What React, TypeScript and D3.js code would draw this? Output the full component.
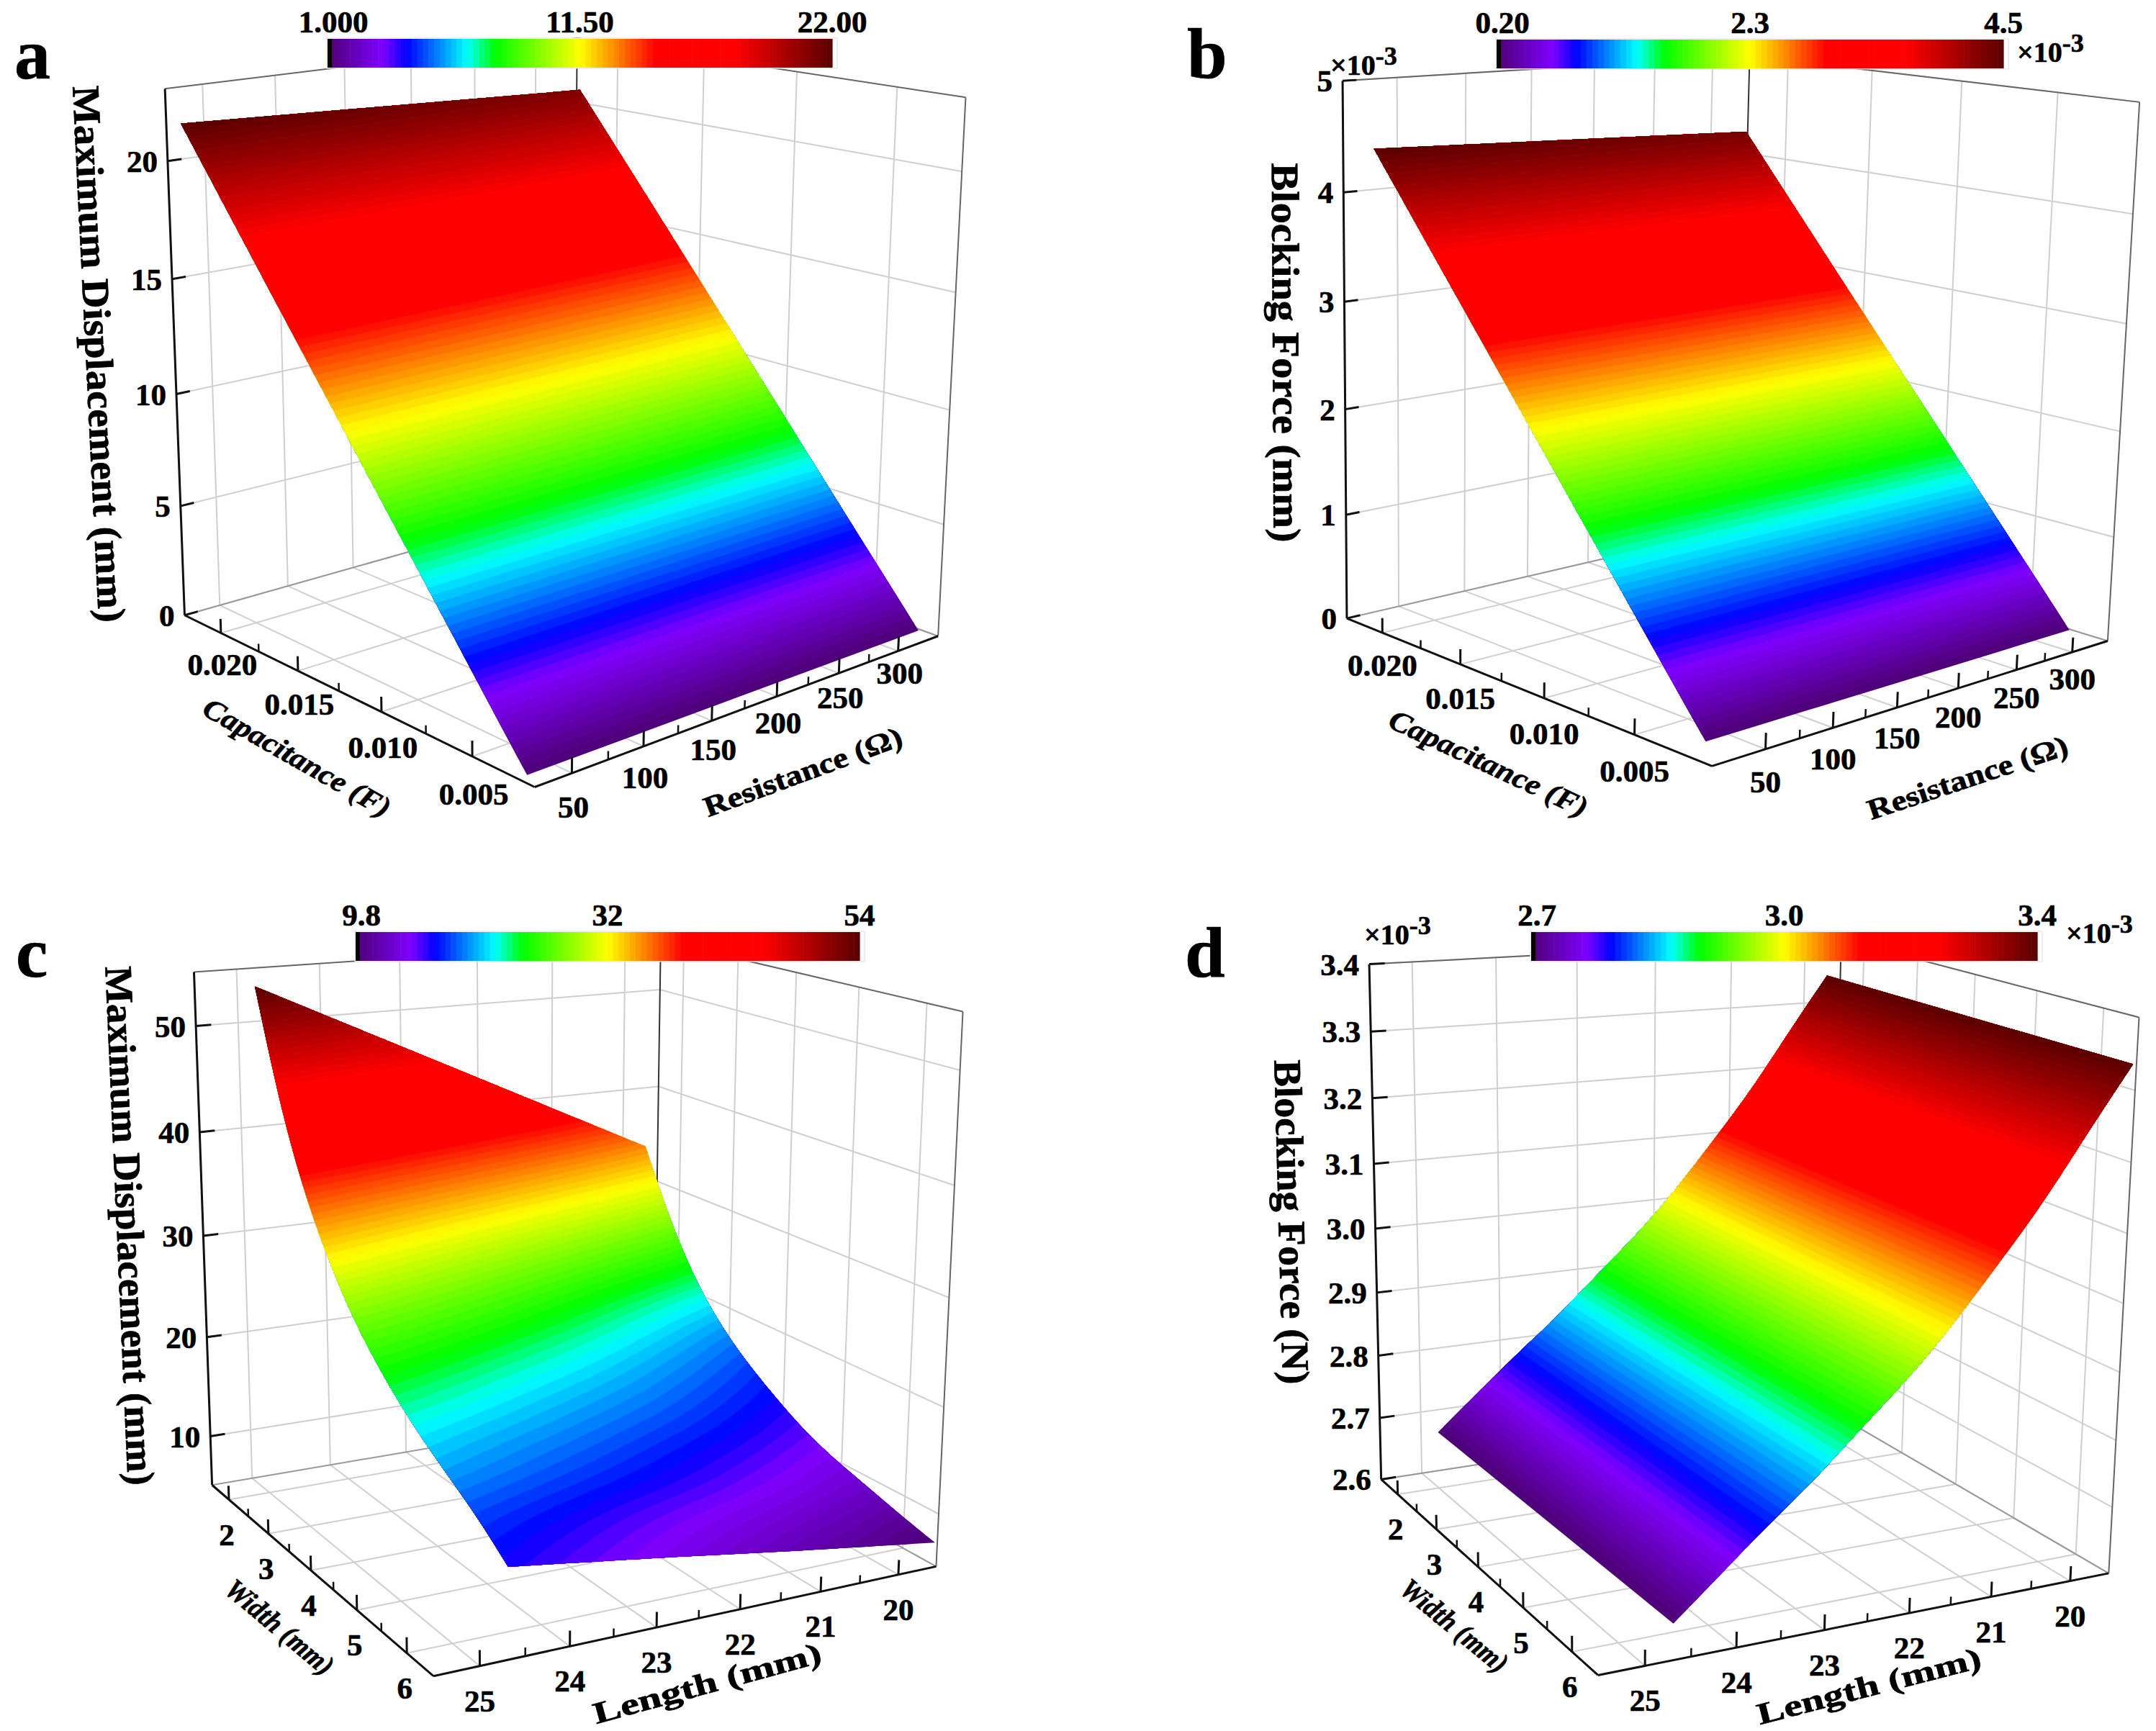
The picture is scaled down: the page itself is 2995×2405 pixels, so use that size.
import React from "react";
import * as d3 from "d3";

// Panel a: displacement against capacitance and resistance
const capacitanceTicks = [0.005, 0.01, 0.015, 0.02];
const capacitanceMinor = [0.0075, 0.0125, 0.0175];
const resistanceTicks = [50, 100, 150, 200, 250, 300];
const resistanceMinor = [75, 125, 175, 225, 275];
const capacitanceRows = [0.0012, 0.005, 0.0088, 0.0126, 0.0164, 0.0202];
const resistanceColsA = [12, 306];
const resistanceColsB = [10, 300];
const displacementA = [
  [1.0, 1.0],
  [5.2, 5.0],
  [9.4, 9.05],
  [13.6, 13.1],
  [17.8, 17.1],
  [22.0, 21.1],
];
const zTicksA = [0, 5, 10, 15, 20];

// Panel b: blocking force against capacitance and resistance
const forceB = [
  [0.2, 0.2],
  [1.05, 1.02],
  [1.9, 1.84],
  [2.75, 2.66],
  [3.6, 3.48],
  [4.45, 4.31],
];
const zTicksB = [0, 1, 2, 3, 4, 5];

// Panel c: displacement against width and length
const widthTicks = [2, 3, 4, 5, 6];
const widthMinor = [2.5, 3.5, 4.5, 5.5];
const lengthTicks = [20, 21, 22, 23, 24, 25];
const lengthMinor = [20.5, 21.5, 22.5, 23.5, 24.5];
const widthRows = [2, 2.5, 3, 3.5, 4, 4.5, 5, 5.5, 6, 6.5, 7];
const lengthCols = [20, 21, 22, 23, 24, 25];
const displacementC = [
  [35.0, 38.8, 42.6, 46.4, 50.2, 54.0],
  [28.5, 31.7, 34.9, 38.1, 41.3, 44.5],
  [23.5, 26.3, 29.1, 31.9, 34.7, 37.5],
  [20.0, 22.5, 25.0, 27.5, 30.0, 32.5],
  [17.5, 19.7, 21.9, 24.1, 26.3, 28.5],
  [15.5, 17.5, 19.5, 21.5, 23.5, 25.5],
  [13.7, 15.6, 17.4, 19.3, 21.1, 23.0],
  [12.5, 14.2, 15.9, 17.6, 19.3, 21.0],
  [11.6, 13.1, 14.6, 16.2, 17.7, 19.3],
  [10.6, 12.0, 13.4, 14.8, 16.2, 17.6],
  [9.8, 10.9, 12.0, 13.2, 14.3, 15.4],
];
// the colours of panel c read a little higher than its heights in the lower part
const colourValuesC = [
  [35.0, 38.8, 42.6, 46.4, 50.2, 54.0],
  [28.5, 31.7, 34.9, 38.1, 41.3, 44.5],
  [23.5, 26.3, 29.1, 31.9, 34.7, 37.5],
  [20.0, 22.5, 25.0, 27.5, 30.0, 32.5],
  [18.0, 20.1, 22.2, 24.3, 26.4, 28.5],
  [16.6, 18.4, 20.2, 21.9, 23.7, 25.5],
  [15.3, 16.9, 18.5, 20.0, 21.6, 23.2],
  [14.0, 15.5, 16.9, 18.4, 19.8, 21.3],
  [12.8, 14.2, 15.6, 16.9, 18.3, 19.7],
  [11.3, 12.6, 13.9, 15.1, 16.4, 17.8],
  [9.8, 11.1, 12.4, 13.8, 15.1, 16.4],
];
const zTicksC = [10, 20, 30, 40, 50];

// Panel d: blocking force against width and length
const widthRowsD = [2, 7];
const lengthColsD = [20, 20.5, 21, 21.5, 22, 22.5, 23, 23.5, 24, 24.5, 25];
const forceAtLength = [3.355, 3.27, 3.18, 3.105, 3.03, 2.965, 2.91, 2.85, 2.8, 2.745, 2.69];
const forceD = [forceAtLength, forceAtLength];
const zTicksD = [2.6, 2.7, 2.8, 2.9, 3.0, 3.1, 3.2, 3.3, 3.4];

// colour table
const colourStops: [number, string][] = [
  [0, "#4c0074"],
  [0.11, "#7f00ff"],
  [0.157, "#0000ff"],
  [0.277, "#00ffff"],
  [0.332, "#00ff00"],
  [0.5, "#ffff00"],
  [0.65, "#ff0000"],
  [0.806, "#ff0000"],
  [1, "#5a0000"],
];
const colourLevels = 90;

const colourOf = d3
  .scaleLinear<string>()
  .domain(colourStops.map((d) => d[0]))
  .range(colourStops.map((d) => d[1]))
  .interpolate(d3.interpolateRgb)
  .clamp(true);

const FONT = "'Liberation Serif', 'Times New Roman', serif";

// fit a 3x4 camera matrix to the seven visible box corners (least squares)
function fitCamera(corners: { c: number[]; p: number[] }[]) {
  const A: number[][] = [];
  const b: number[] = [];
  corners.forEach(({ c, p }) => {
    const [X, Y, Z] = c;
    const [u, v] = p;
    A.push([X, Y, Z, 1, 0, 0, 0, 0, -u * X, -u * Y, -u * Z]);
    b.push(u);
    A.push([0, 0, 0, 0, X, Y, Z, 1, -v * X, -v * Y, -v * Z]);
    b.push(v);
  });
  const n = 11;
  const M = d3.range(n).map((i) =>
    d3.range(n + 1).map((j) =>
      j < n ? d3.sum(A, (r) => r[i] * r[j]) : d3.sum(A, (r, k) => r[i] * b[k])
    )
  );
  for (let i = 0; i < n; i++) {
    let piv = i;
    for (let r = i + 1; r < n; r++) if (Math.abs(M[r][i]) > Math.abs(M[piv][i])) piv = r;
    [M[i], M[piv]] = [M[piv], M[i]];
    for (let r = 0; r < n; r++) {
      if (r === i) continue;
      const f = M[r][i] / M[i][i];
      for (let k = i; k <= n; k++) M[r][k] -= f * M[i][k];
    }
  }
  const s = M.map((r, i) => r[n] / r[i]);
  return (X: number, Y: number, Z: number): [number, number] => {
    const w = s[8] * X + s[9] * Y + s[10] * Z + 1;
    return [
      (s[0] * X + s[1] * Y + s[2] * Z + s[3]) / w,
      (s[4] * X + s[5] * Y + s[6] * Z + s[7]) / w,
    ];
  };
}

function Title({ t }: { t: any }) {
  return (
    <text
      transform={`translate(${t.at[0]},${t.at[1]}) rotate(${t.angle})`}
      textAnchor="middle"
      dy="0.35em"
      fontSize={t.size}
      fontStyle={t.italic ? "italic" : "normal"}
      fontWeight="bold"
      textLength={t.length}
      lengthAdjust="spacingAndGlyphs"
    >
      {t.text}
    </text>
  );
}

function Exponent({ x, y }: { x: number; y: number }) {
  return (
    <text x={x} y={y} fontSize={40} fontWeight="bold">
      ×10
      <tspan dy={-14} fontSize={36}>
        -3
      </tspan>
    </text>
  );
}

function ColourBar({ bar }: { bar: any }) {
  const x = d3.scaleLinear().domain([0, 1]).range([bar.x0, bar.x1]);
  return (
    <g>
      <rect x={bar.x0 - 1} y={bar.y - 1} width={bar.x1 - bar.x0 + 8} height={bar.h + 2} fill="#fff" stroke="#ddd" strokeWidth={1} />
      {d3.range(colourLevels).map((i) => (
        <rect
          key={i}
          x={x(i / colourLevels)}
          y={bar.y}
          width={x(1 / colourLevels) - x(0) + 0.6}
          height={bar.h}
          fill={colourOf((i + 0.5) / colourLevels)}
        />
      ))}
      <rect x={bar.x0} y={bar.y} width={6} height={bar.h} fill="#000" />
      {bar.labels.map((l: string, i: number) => (
        <text key={i} x={x(i / 2) + (i === 0 ? 8 : 0)} y={bar.y - 9} textAnchor="middle" fontSize={43} fontWeight="bold">
          {l}
        </text>
      ))}
    </g>
  );
}

function Panel({ p }: { p: any }) {
  const sx = d3.scaleLinear().domain(p.xDomain).range([0, 1]);
  const sy = d3.scaleLinear().domain(p.yDomain).range([0, 1]);
  const sz = d3.scaleLinear().domain(p.zDomain).range([0, 1]);
  const cam = fitCamera([
    { c: [0, 0, 0], p: p.box.F },
    { c: [1, 0, 0], p: p.box.L },
    { c: [0, 1, 0], p: p.box.R },
    { c: [1, 1, 0], p: p.box.B },
    { c: [1, 0, 1], p: p.box.Lt },
    { c: [0, 1, 1], p: p.box.Rt },
    { c: [1, 1, 1], p: p.box.Bt },
  ]);
  const line = d3.line();
  const seg = (a: number[], b: number[]) =>
    line([cam(a[0], a[1], a[2]), cam(b[0], b[1], b[2])]) as string;

  const grid: string[] = [];
  p.xTicks.forEach((t: number) => {
    grid.push(seg([sx(t), 0, 0], [sx(t), 1, 0]));
    grid.push(seg([sx(t), 1, 0], [sx(t), 1, 1]));
  });
  p.yTicks.forEach((t: number) => {
    grid.push(seg([0, sy(t), 0], [1, sy(t), 0]));
    grid.push(seg([1, sy(t), 0], [1, sy(t), 1]));
  });
  p.zTicks.forEach((t: number) => {
    grid.push(seg([1, 0, sz(t)], [1, 1, sz(t)]));
    grid.push(seg([1, 1, sz(t)], [0, 1, sz(t)]));
  });

  // surface: a fine grid over the data, then colour bands with d3.contours
  const nI = (p.xs.length - 1) * p.subX;
  const nJ = (p.ys.length - 1) * p.subY;
  const fx = d3.scaleLinear().domain(p.xs.map((_: number, i: number) => i * p.subX)).range(p.xs);
  const fy = d3.scaleLinear().domain(p.ys.map((_: number, j: number) => j * p.subY)).range(p.ys);
  const smooth = (table: number[][]) => {
    const columns = p.ys.map((_: number, j: number) =>
      d3.interpolateBasis(table.map((row) => row[j]))
    );
    return (i: number, j: number) =>
      d3.interpolateBasis(columns.map((f: any) => f(i / nI)))(j / nJ);
  };
  const zAt = smooth(p.zs);
  const colourAt = smooth(p.cs || p.zs);
  const pt = (i: number, j: number) => cam(sx(fx(i)), sy(fy(j)), sz(zAt(i, j)));

  const values: number[] = [];
  for (let i = 0; i <= nI; i++) for (let j = 0; j <= nJ; j++) values.push(colourAt(i, j));
  const contours = d3.contours().size([nJ + 1, nI + 1]);
  const surfacePath = d3.geoPath(
    d3.geoTransform({
      point(x: number, y: number) {
        const q = pt(
          Math.max(0, Math.min(nI, y - 0.5)),
          Math.max(0, Math.min(nJ, x - 0.5))
        );
        (this as any).stream.point(q[0], q[1]);
      },
    })
  );
  const edge = d3.scaleLinear().domain([0, colourLevels]).range(p.colourDomain);
  const bands = d3.range(colourLevels).map((k) => ({
    d: surfacePath(contours.contour(values, k === 0 ? -1e9 : edge(k)) as any) as string,
    fill: colourOf((k + 0.5) / colourLevels),
  }));

  const floorLabel = (o: number[], text: string, key: string, off: number[], along: number) => {
    const [x, y] = cam(o[0], o[1], o[2]);
    return (
      <text key={key} x={x + off[0]} y={y + off[1] + off[2] * along} textAnchor="middle" dy="0.35em" fontSize={43} fontWeight="bold">
        {text}
      </text>
    );
  };

  return (
    <g fontFamily={FONT}>
      {grid.map((d, i) => (
        <path key={i} d={d} fill="none" stroke="#cfcfcf" strokeWidth={2} />
      ))}
      {/* box edges */}
      <path d={seg([1, 0, 1], [1, 1, 1])} stroke="#666" strokeWidth={2} fill="none" />
      <path d={seg([1, 1, 1], [0, 1, 1])} stroke="#666" strokeWidth={2} fill="none" />
      <path d={seg([0, 1, 1], [0, 1, 0])} stroke="#666" strokeWidth={2} fill="none" />
      <path d={seg([1, 1, 0], [1, 1, 1])} stroke="#333" strokeWidth={2} fill="none" />
      <path d={seg([1, 0, 0], [1, 1, 0])} stroke="#999" strokeWidth={2} fill="none" />
      <path d={seg([0, 1, 0], [1, 1, 0])} stroke="#999" strokeWidth={2} fill="none" />
      {/* surface */}
      {bands.map((b, k) => (b.d ? <path key={k} d={b.d} fill={b.fill} /> : null))}
      {/* axes */}
      <path d={seg([1, 0, 0], [1, 0, 1])} stroke="#111" strokeWidth={3} fill="none" />
      <path d={seg([1, 0, 0], [0, 0, 0])} stroke="#111" strokeWidth={3} fill="none" />
      <path d={seg([0, 0, 0], [0, 1, 0])} stroke="#111" strokeWidth={3} fill="none" />
      {p.xTicks.map((t: number, i: number) => (
        <path key={"xt" + i} d={seg([sx(t), 0, 0], [sx(t), 0, 0.028])} stroke="#111" strokeWidth={3} />
      ))}
      {p.xMinor.map((t: number, i: number) => (
        <path key={"xm" + i} d={seg([sx(t), 0, 0], [sx(t), 0, 0.015])} stroke="#111" strokeWidth={2.5} />
      ))}
      {p.yTicks.map((t: number, i: number) => (
        <path key={"yt" + i} d={seg([0, sy(t), 0], [0, sy(t), 0.028])} stroke="#111" strokeWidth={3} />
      ))}
      {p.yMinor.map((t: number, i: number) => (
        <path key={"ym" + i} d={seg([0, sy(t), 0], [0, sy(t), 0.015])} stroke="#111" strokeWidth={2.5} />
      ))}
      {p.zTicks.map((t: number, i: number) => (
        <path key={"zt" + i} d={seg([1, 0, sz(t)], [1, 0.03, sz(t)])} stroke="#111" strokeWidth={3} />
      ))}
      {/* tick labels */}
      {p.xTicks.map((t: number, i: number) =>
        floorLabel([sx(t), 0, 0], p.xFormat(t), "xl" + i, p.xOff, 1 - sx(t))
      )}
      {p.yTicks.map((t: number, i: number) =>
        floorLabel([0, sy(t), 0], String(t), "yl" + i, p.yOff, sy(t))
      )}
      {p.zTicks.map((t: number, i: number) => {
        const [x, y] = cam(1, 0, sz(t));
        return (
          <text key={"zl" + i} x={x - 14} y={y} textAnchor="end" dy="0.35em" fontSize={43} fontWeight="bold">
            {p.zFormat(t)}
          </text>
        );
      })}
      {p.titles.map((t: any, i: number) => (
        <Title key={i} t={t} />
      ))}
      <ColourBar bar={p.bar} />
      <text x={p.letter[0]} y={p.letter[1]} fontSize={100} fontWeight="bold">
        {p.letter[2]}
      </text>
      {p.exponents.map((e: number[], i: number) => (
        <Exponent key={i} x={e[0]} y={e[1]} />
      ))}
    </g>
  );
}

const cFormat = d3.format(".3f");
const panels = [
  {
    box: { F: [741, 1096], L: [259, 853], R: [1306, 880], B: [793, 705], Lt: [228, 123], Rt: [1340, 137], Bt: [804, 52] },
    xDomain: [0.0018, 0.0225], yDomain: [25, 335], zDomain: [0, 23],
    xTicks: capacitanceTicks, xMinor: capacitanceMinor, yTicks: resistanceTicks, yMinor: resistanceMinor, zTicks: zTicksA,
    xFormat: cFormat, zFormat: String, xOff: [2, 42, 12], yOff: [2, 48, -20],
    xs: capacitanceRows, ys: resistanceColsA, zs: displacementA, subX: 30, subY: 4, colourDomain: [1, 22],
    bar: { x0: 455, x1: 1156, y: 54, h: 40, labels: ["1.000", "11.50", "22.00"] },
    letter: [20, 109, "a"], exponents: [],
    titles: [
      { text: "Maximum Displacement (mm)", at: [138, 492], angle: 87.2, size: 54, length: 746 },
      { text: "Capacitance (F)", at: [413, 1052], angle: 29.7, size: 40, length: 293, italic: true },
      { text: "Resistance (Ω)", at: [1115, 1072], angle: -20.3, size: 40, length: 291 },
    ],
  },
  {
    box: { F: [2377, 1066], L: [1871, 858], R: [2928, 888], B: [2414, 735], Lt: [1866, 112], Rt: [2973, 143], Bt: [2429, 77] },
    xDomain: [0.001, 0.0224], yDomain: [12, 333], zDomain: [0, 5],
    xTicks: capacitanceTicks, xMinor: capacitanceMinor, yTicks: resistanceTicks, yMinor: resistanceMinor, zTicks: zTicksB,
    xFormat: cFormat, zFormat: String, xOff: [0, 44, 8], yOff: [0, 46, -10],
    xs: capacitanceRows, ys: resistanceColsB, zs: forceB, subX: 30, subY: 4, colourDomain: [0.2, 4.45],
    bar: { x0: 2079, x1: 2783, y: 55, h: 40, labels: ["0.20", "2.3", "4.5"] },
    letter: [1649, 108, "b"], exponents: [[1848, 104], [2802, 86]],
    titles: [
      { text: "Blocking Force (mm)", at: [1787, 490], angle: 89.7, size: 54, length: 527 },
      { text: "Capacitance (F)", at: [2068, 1060], angle: 25, size: 40, length: 300, italic: true },
      { text: "Resistance (Ω)", at: [2733, 1080], angle: -18.4, size: 40, length: 291 },
    ],
  },
  {
    box: { F: [601, 2332], L: [295, 2060], R: [1301, 2172], B: [908, 1963], Lt: [270, 1351], Rt: [1338, 1407], Bt: [917, 1305] },
    xDomain: [6.5, 1.55], yDomain: [25.5, 19.5], zDomain: [5, 55],
    xTicks: widthTicks, xMinor: widthMinor, yTicks: lengthTicks, yMinor: lengthMinor, zTicks: zTicksC,
    xFormat: String, zFormat: String, xOff: [-3, 48, 0], yOff: [0, 48, 0],
    xs: widthRows, ys: lengthCols, zs: displacementC, cs: colourValuesC, subX: 16, subY: 24, colourDomain: [9.8, 54],
    bar: { x0: 494, x1: 1194, y: 1295, h: 40, labels: ["9.8", "32", "54"] },
    letter: [22, 1357, "c"], exponents: [],
    titles: [
      { text: "Maximum Displacement (mm)", at: [181, 1703], angle: 87.5, size: 54, length: 722 },
      { text: "Width (mm)", at: [389, 2260], angle: 40, size: 40, length: 183, italic: true },
      { text: "Length (mm)", at: [982, 2338], angle: -15.3, size: 42, length: 327 },
    ],
  },
  {
    box: { F: [2222, 2330], L: [1915, 2052], R: [2924, 2185], B: [2548, 1962], Lt: [1904, 1341], Rt: [2975, 1412], Bt: [2553, 1305] },
    xDomain: [6.5, 1.55], yDomain: [25.5, 19.5], zDomain: [2.6, 3.4],
    xTicks: widthTicks, xMinor: widthMinor, yTicks: lengthTicks, yMinor: lengthMinor, zTicks: zTicksD,
    xFormat: String, zFormat: d3.format(".1f"), xOff: [-3, 48, 0], yOff: [0, 48, 0],
    xs: widthRowsD, ys: lengthColsD, zs: forceD, subX: 2, subY: 16, colourDomain: [2.69, 3.355],
    bar: { x0: 2127, x1: 2830, y: 1295, h: 40, labels: ["2.7", "3.0", "3.4"] },
    letter: [1646, 1357, "d"], exponents: [[1895, 1312], [2870, 1310]],
    titles: [
      { text: "Blocking Force (N)", at: [1795, 1698], angle: 88.5, size: 54, length: 451 },
      { text: "Width (mm)", at: [2021, 2258], angle: 39.4, size: 40, length: 180, italic: true },
      { text: "Length (mm)", at: [2596, 2342], angle: -14.5, size: 42, length: 320 },
    ],
  },
];

export default function App() {
  return (
    <svg
      width={2995}
      height={2405}
      viewBox="0 0 2995 2405"
      style={{ position: "absolute", left: 0, top: 0, background: "#fff" }}
    >
      <style>{"text{stroke:#000;stroke-width:0.7px}"}</style>
      {panels.map((p, i) => (
        <Panel key={i} p={p} />
      ))}
    </svg>
  );
}
